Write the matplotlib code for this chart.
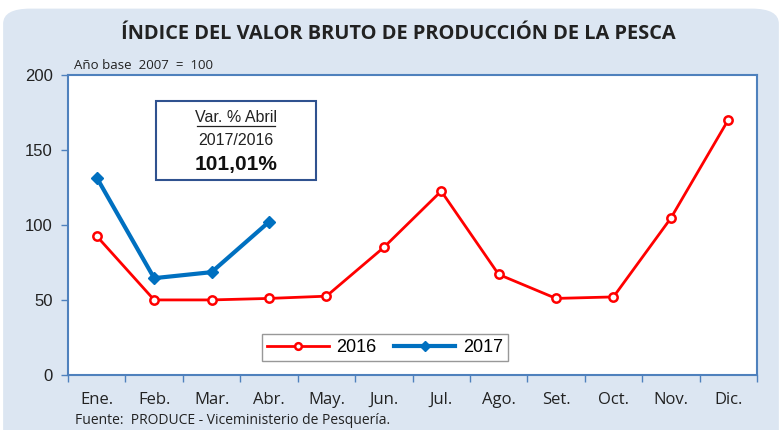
import matplotlib.pyplot as plt
from matplotlib.patches import FancyBboxPatch, Rectangle

meses = ["Ene.", "Feb.", "Mar.", "Abr.", "May.", "Jun.", "Jul.", "Ago.", "Set.", "Oct.", "Nov.", "Dic."]
v2016 = [92.5, 50.0, 50.0, 51.0, 52.5, 85.0, 122.5, 67.0, 51.0, 52.0, 104.5, 170.0]
v2017 = [131.5, 64.5, 68.5, 102.0]
yticks = [0, 50, 100, 150, 200]

fig = plt.figure(figsize=(7.82, 4.3), dpi=100, facecolor="white")

# rounded light-blue background
bg = FancyBboxPatch((0.004, -0.05), 0.992, 1.03, boxstyle="round,pad=0,rounding_size=0.035",
                    transform=fig.transFigure, facecolor="#DCE6F2", edgecolor="none", zorder=-10)
fig.patches.append(bg)

ax = fig.add_axes([0.087, 0.128, 0.881, 0.698])
ax.set_facecolor("white")

ax.plot(range(len(v2016)), v2016, color="#FF0000", lw=2, marker="o", ms=6,
        mfc="white", mec="#FF0000", mew=1.8, label="2016")
ax.plot(range(len(v2017)), v2017, color="#0070C0", lw=3, marker="D", ms=6,
        mfc="#0070C0", mec="#0070C0", label="2017")

ax.set_xlim(-0.5, 11.5)
ax.set_ylim(0, 200)
ax.set_yticks(yticks)
ax.set_yticklabels([str(t) for t in yticks], fontsize=12, family="Liberation Sans", color="#222222")
ax.set_xticks(range(12))
ax.set_xticklabels(meses, fontsize=12, family="Open Sans", color="#222222")
ax.set_xticks([i - 0.5 for i in range(13)], minor=True)
ax.tick_params(axis="x", which="major", length=0, pad=12)
ax.tick_params(axis="x", which="minor", length=5, color="#4F81BD", width=1)
ax.tick_params(axis="y", length=5, color="#4F81BD", width=1, pad=6)
for s in ax.spines.values():
    s.set_color("#4F81BD")
    s.set_linewidth(1.5)

leg = ax.legend(loc="lower center", bbox_to_anchor=(0.46, 0.015), ncol=2,
                prop={"family": "Liberation Sans", "size": 13}, frameon=True, fancybox=False,
                edgecolor="#7F7F7F", handlelength=3.4, columnspacing=1.0, borderpad=0.3,
                markerscale=0.8, handletextpad=0.4)
leg.get_frame().set_linewidth(1.0)

# text box with the variation
ax.add_patch(Rectangle((1.03, 130), 2.79, 52.7, fc="white", ec="#2F528F", lw=1.5, zorder=5))
ax.text(2.42, 171.5, "Var. % Abril", ha="center", va="center", fontsize=11.5,
        family="Liberation Sans", color="#222222", zorder=6)
ax.plot([1.74, 3.1], [166.0, 166.0], color="#222222", lw=0.9, zorder=6)
ax.text(2.42, 156.5, "2017/2016", ha="center", va="center", fontsize=11.5,
        family="Liberation Sans", color="#222222", zorder=6)
ax.text(2.42, 140.5, "101,01%", ha="center", va="center", fontsize=15, fontweight="bold",
        family="Liberation Sans", color="#111111", zorder=6)

fig.text(0.509, 0.922, "ÍNDICE DEL VALOR BRUTO DE PRODUCCIÓN DE LA PESCA", ha="center", va="center",
         fontsize=14.4, fontweight="bold", family="Open Sans", color="#222222")
fig.text(0.095, 0.848, "Año base  2007  =  100", ha="left", va="center", fontsize=9.5,
         family="Open Sans", color="#222222")
fig.text(0.096, 0.022, "Fuente:  PRODUCE - Viceministerio de Pesquería.", ha="left", va="center",
         fontsize=10, family="Open Sans", color="#222222")

fig.savefig("out.png", dpi=100, facecolor=fig.get_facecolor())
